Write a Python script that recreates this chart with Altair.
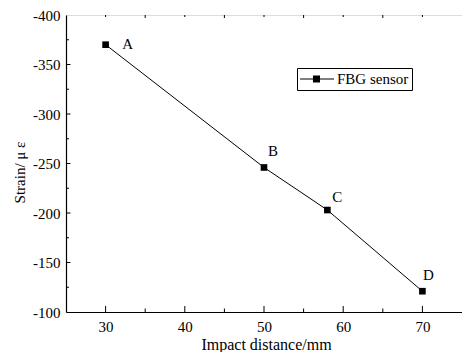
import altair as alt
import pandas as pd

# Data
distance = [30, 50, 58, 70]
strain = [-370, -246, -203, -121]
point_labels = ["A", "B", "C", "D"]
series_name = "FBG sensor"

x_ticks_major = [30, 40, 50, 60, 70]
x_ticks_minor = [35, 45, 55, 65]
y_ticks_major = [-400, -350, -300, -250, -200, -150, -100]
y_ticks_minor = [-375, -325, -275, -225, -175, -125]

FONT = "Times New Roman"
W, H = 396, 297

df = pd.DataFrame({"x": distance, "y": strain, "label": point_labels,
                   "series": [series_name] * len(distance)})

xs = alt.Scale(domain=[25, 75], nice=False)
ys = alt.Scale(domain=[-400, -100], reverse=True, nice=False)

x_axis = alt.Axis(values=x_ticks_major, tickSize=0, labelPadding=19.5,
                  labelBaseline="alphabetic", labelFont=FONT, labelFontSize=15,
                  labelColor="black", domainColor="black", domainWidth=1.2,
                  labelExpr="'' + datum.value", labelFontWeight="normal",
                  grid=False, title="Impact distance/mm", titleFont=FONT,
                  titleFontSize=16, titleFontWeight="normal", titleColor="black",
                  titleBaseline="alphabetic", titleY=37, titleX=200)
y_axis = alt.Axis(values=y_ticks_major, tickSize=0, labelPadding=6,
                  labelFont=FONT, labelFontSize=15, labelColor="black",
                  labelExpr="'' + datum.value", labelFontWeight="normal",
                  domainColor="black", domainWidth=1.2, grid=False,
                  title="Strain/ μ ε", titleFont=FONT, titleFontSize=15,
                  titleFontWeight="normal", titleColor="black",
                  titleBaseline="middle", titleX=-47, titleY=157, titleAngle=270)

base = alt.Chart(df)

line = base.mark_line(color="black", strokeWidth=1).encode(
    x=alt.X("x:Q", scale=xs, axis=x_axis),
    y=alt.Y("y:Q", scale=ys, axis=y_axis),
)

# legend glyph: line with a square, drawn right of nominal symbol box
legend_path = ("M-1,-0.0625L3.25,-0.0625L3.25,0.0625L-1,0.0625Z "
               "M0.62,-0.44L1.5,-0.44L1.5,0.44L0.62,0.44Z")

points = base.mark_square(size=44, opacity=1, filled=True).encode(
    x=alt.X("x:Q", scale=xs),
    y=alt.Y("y:Q", scale=ys),
    color=alt.Color("series:N", scale=alt.Scale(range=["black"]),
                    legend=alt.Legend(title=None, orient="none", legendX=231,
                                      legendY=53, padding=3,
                                      strokeColor="black", fillColor="white",
                                      symbolType=legend_path, symbolSize=256,
                                      symbolStrokeWidth=0, labelOffset=21,
                                      labelFont=FONT, labelFontSize=15,
                                      labelFontWeight="normal",
                                      labelColor="black")),
)

offsets = {"A": (22, -1), "B": (9, -16), "C": (10, -13), "D": (6, -16)}
texts = []
for lab in point_labels:
    dx, dy = offsets[lab]
    texts.append(
        base.transform_filter(alt.datum.label == lab).mark_text(
            font=FONT, fontSize=15, color="black", dx=dx, dy=dy,
            align="center", baseline="middle").encode(
            x=alt.X("x:Q", scale=xs), y=alt.Y("y:Q", scale=ys), text="label:N")
    )

# inward ticks
xt_major = pd.DataFrame({"v": x_ticks_major})
xt_minor = pd.DataFrame({"v": x_ticks_minor})
yt_major = pd.DataFrame({"v": y_ticks_major[1:-1]})
yt_minor = pd.DataFrame({"v": y_ticks_minor})

def xtick(data, y0, y1):
    return alt.Chart(data).mark_rule(color="black", strokeWidth=1).encode(
        x=alt.X("v:Q", scale=xs), y=alt.value(y0), y2=alt.value(y1))

def ytick(data, x0, x1):
    return alt.Chart(data).mark_rule(color="black", strokeWidth=1).encode(
        y=alt.Y("v:Q", scale=ys), x=alt.value(x0), x2=alt.value(x1))

ticks = [
    xtick(xt_major, H, H - 6), xtick(xt_minor, H, H - 3.5),
    xtick(xt_major, 0, 2), xtick(xt_minor, 0, 3),
    ytick(yt_major, 0, 4.5), ytick(yt_minor, 0, 3),
]

chart = alt.layer(line, points, *texts, *ticks).properties(
    width=W, height=H,
    autosize=alt.AutoSizeParams(type="none"),
    padding={"left": 66, "top": 15, "right": 0, "bottom": 40},
).configure_view(stroke="black", strokeWidth=1.2).configure(
    background="white", font=FONT,
    style={"guide-label": {"font": FONT}, "guide-title": {"font": FONT}},
).configure_axis(labelFont=FONT, titleFont=FONT).configure_legend(
    labelFont=FONT)

chart.save("out.html", embed_options={"renderer": "svg", "actions": False})
